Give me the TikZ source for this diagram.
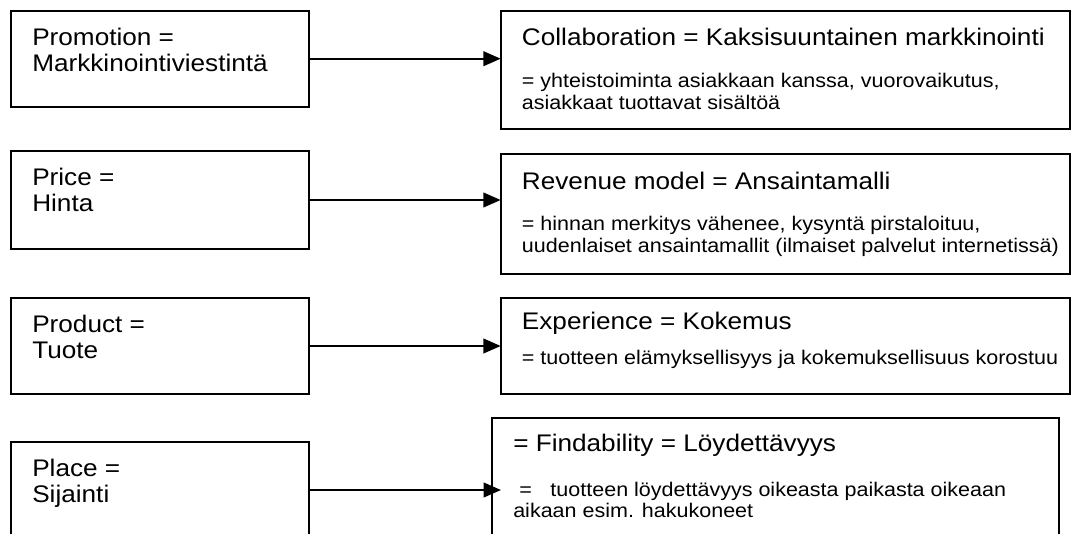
\documentclass[tikz,border=0pt]{standalone}
\usepackage{fontspec}
\setmainfont{Liberation Sans}[FakeStretch=1.09]
\usetikzlibrary{arrows.meta,fit}
\begin{document}
\begin{tikzpicture}[x=0.75pt,y=-0.75pt,
  box/.style={draw=black, line width=1.45pt, inner sep=0pt, outer sep=0pt, rectangle},
  head/.style={anchor=base west, inner sep=0pt, font=\fontsize{18}{21}\selectfont},
  note/.style={anchor=base west, inner sep=0pt, font=\fontsize{14.8}{17}\selectfont},
  link/.style={line width=1.45pt, -{Triangle[length=13pt,width=11pt]}}]
\useasboundingbox (0,0) rectangle (1072,533);
\clip (0,0) rectangle (1072,533);

% 4P boxes (left column)
\node[box, fit={(11,10.7) (309,106.7)}] (promo) {};
\node[box, fit={(11,151) (309,249)}] (price) {};
\node[box, fit={(11,298) (309,394)}] (product) {};
\node[box, fit={(11,442) (309,538)}] (place) {};

% 4C boxes (right column)
\node[box, fit={(500.7,10.7) (1070,129.3)}] (collab) {};
\node[box, fit={(500.7,154) (1070,274)}] (revenue) {};
\node[box, fit={(500.7,298) (1070,394)}] (experience) {};
\node[box, fit={(491.7,418) (1059,560)}] (findability) {};

% left texts
\node[head] (promoA) at (32,45) {Promotion =};
\node[head] (promoB) at (32,71) {Markkinointiviestintä};
\node[head] (priceA) at (32,185) {Price =};
\node[head] (priceB) at (32,211) {Hinta};
\node[head] (productA) at (32,332) {Product =};
\node[head] (productB) at (32,358) {Tuote};
\node[head] (placeA) at (32,476) {Place =};
\node[head] (placeB) at (32,502) {Sijainti};

% right texts
\node[head] (collabT) at (521.7,45) {Collaboration = Kaksisuuntainen markkinointi};
\node[note] (collabA) at (521.7,87) {= yhteistoiminta asiakkaan kanssa, vuorovaikutus,};
\node[note] (collabB) at (521.7,109) {asiakkaat tuottavat sisältöä};

\node[head] (revenueT) at (521.7,189) {Revenue model = Ansaintamalli};
\node[note] (revenueA) at (521.7,230) {= hinnan merkitys vähenee, kysyntä pirstaloituu,};
\node[note] (revenueB) at (521.7,252) {uudenlaiset ansaintamallit (ilmaiset palvelut internetissä)};

\node[head] (experienceT) at (521.7,329) {Experience = Kokemus};
\node[note] (experienceA) at (521.7,364) {= tuotteen elämyksellisyys ja kokemuksellisuus korostuu};

\node[head] (findT) at (513,451) {= Findability = Löydettävyys};
\node[note] (findA) at (519,496) {=\hspace{14pt}tuotteen löydettävyys oikeasta paikasta oikeaan};
\node[note] (findB) at (513,517) {aikaan esim. hakukoneet};

% connectors
\coordinate (findtip) at (501,490);
\draw[link] (promo.east) -- (collab.west |- promo.east);
\draw[link] (price.east) -- (revenue.west |- price.east);
\draw[link] (product.east) -- (experience.west |- product.east);
\draw[link] (place.east) -- (findtip);
\end{tikzpicture}
\end{document}
